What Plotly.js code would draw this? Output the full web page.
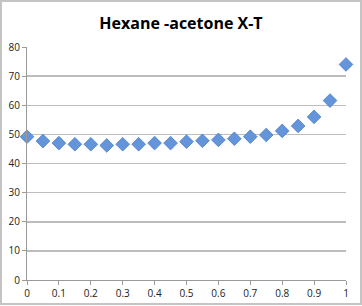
<!DOCTYPE html>
<html><head><meta charset="utf-8">
<script src="https://cdn.plot.ly/plotly-3.0.1.min.js"></script>
<style>
html,body{margin:0;padding:0;background:#fff;}
#wrap{position:relative;width:362px;height:306px;}
#chart{width:362px;height:306px;}
#frame{position:absolute;left:0;top:0;width:362px;height:305px;box-sizing:border-box;border:2px solid #C4C4C4;pointer-events:none;}
</style></head>
<body>
<div id="wrap"><div id="chart"></div><div id="frame"></div></div>
<script>
const xValues = [0,0.05,0.1,0.15,0.2,0.25,0.3,0.35,0.4,0.45,0.5,0.55,0.6,0.65,0.7,0.75,0.8,0.85,0.9,0.95,1];
const tValues = [49.2,47.7,47.0,46.6,46.6,46.2,46.6,46.6,47.0,47.0,47.5,47.8,48.1,48.5,49.2,49.8,51.2,52.9,56.0,61.6,74.0];
const xTicks = [0,0.1,0.2,0.3,0.4,0.5,0.6,0.7,0.8,0.9,1];
const xTickLabels = ['0','0.1','0.2','0.3','0.4','0.5','0.6','0.7','0.8','0.9','1'];
const yTicks = [0,10,20,30,40,50,60,70,80];
const chartTitle = 'Hexane -acetone X-T';

const trace = {
  x: xValues, y: tValues, type: 'scatter', mode: 'markers',
  marker: {symbol: 'diamond', size: 10.5, color: '#6495DA', line: {color: '#4A7CC4', width: 0.8}},
  cliponaxis: false, hoverinfo: 'skip'
};
const layout = {
  width: 362, height: 306,
  margin: {l: 27, r: 16, t: 47, b: 26, pad: 0},
  paper_bgcolor: '#fff', plot_bgcolor: '#fff',
  showlegend: false,
  font: {family: 'Open Sans, sans-serif', size: 10, color: '#222'},
  title: {text: '<b>' + chartTitle + '</b>', x: 0.5, xanchor: 'center', y: 0.925, yanchor: 'middle',
          font: {family: 'Open Sans, sans-serif', size: 16, color: '#000'}},
  xaxis: {range: [0, 1], tickvals: xTicks, ticktext: xTickLabels, showgrid: false, zeroline: false,
          showline: true, linecolor: '#9A9A9A', linewidth: 1, ticks: 'outside', ticklen: 4, tickcolor: '#9A9A9A',
          tickfont: {size: 10, color: '#222'}, fixedrange: true},
  yaxis: {range: [0, 80], tickvals: yTicks, showgrid: true, gridcolor: '#BDBDBD', gridwidth: 1.5, zeroline: false,
          showline: true, linecolor: '#9A9A9A', linewidth: 1, ticks: 'outside', ticklen: 4, tickcolor: '#9A9A9A',
          tickfont: {size: 10, color: '#222'}, fixedrange: true}
};
Plotly.newPlot('chart', [trace], layout, {displayModeBar: false, staticPlot: true});
</script>
</body></html>
